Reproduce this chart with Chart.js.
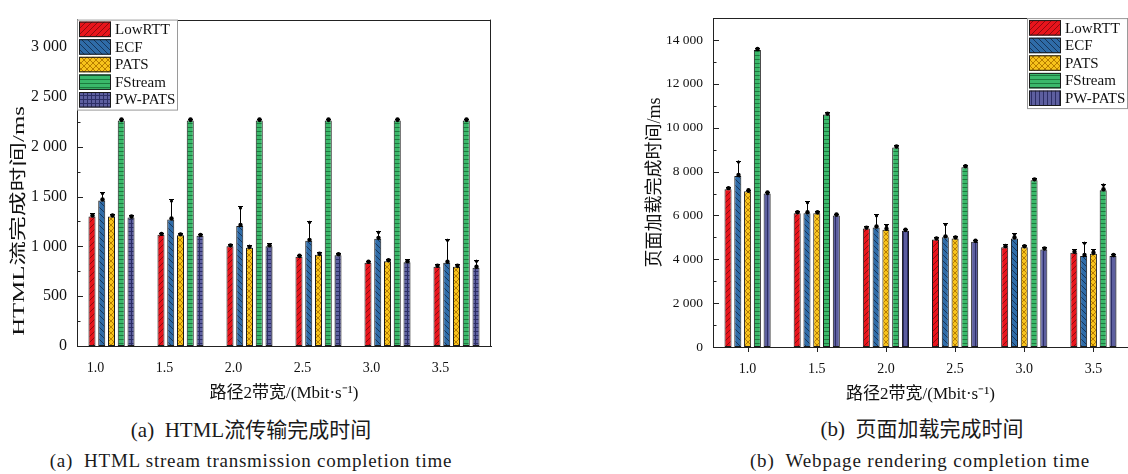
<!DOCTYPE html>
<html>
<head>
<meta charset="utf-8">
<script src="https://cdn.jsdelivr.net/npm/chart.js@4.4.1/dist/chart.umd.min.js"></script>
<style>
  html, body { margin:0; padding:0; background:#fff; }
  body { width:1128px; height:474px; position:relative; overflow:hidden; }
  canvas { position:absolute; top:0; }
  .cap { position:absolute; width:600px; text-align:center; color:#1a1a1a; white-space:nowrap;
         font-family:"Liberation Serif","Noto Sans CJK SC",serif; }
</style>
</head>
<body>
<canvas id="ch1" width="500" height="410" style="left:0px"></canvas>
<canvas id="ch2" width="488" height="410" style="left:640px"></canvas>
<div class="cap" style="left:-49px;top:413px;font-size:21px">(a)&nbsp; HTML流传输完成时间</div>
<div class="cap" style="left:-49px;top:450px;font-size:19px;letter-spacing:0.75px">(a)&nbsp; HTML stream transmission completion time</div>
<div class="cap" style="left:622px;top:412px;font-size:21px">(b)&nbsp; 页面加载完成时间</div>
<div class="cap" style="left:620px;top:450px;font-size:19px;letter-spacing:0.85px">(b)&nbsp; Webpage rendering completion time</div>
<script>
// ---------------- data ----------------
const categories = ['1.0', '1.5', '2.0', '2.5', '3.0', '3.5'];
const seriesNames = ['LowRTT', 'ECF', 'PATS', 'FStream', 'PW-PATS'];

// (a) HTML stream completion time (ms)
const htmlLowRTT  = [1300, 1115, 1000, 895, 835, 795];
const htmlECF     = [1460, 1270, 1205, 1055, 1075, 835];
const htmlPATS    = [1300, 1110, 985, 915, 850, 795];
const htmlFStream = [2262, 2262, 2262, 2262, 2262, 2262];
const htmlPWPATS  = [1290, 1105, 1000, 910, 840, 785];
const htmlLowRTTErr  = [30, 20, 20, 20, 20, 25];
const htmlECFErr     = [85, 200, 195, 200, 80, 240];
const htmlPATSErr    = [25, 25, 30, 25, 25, 25];
const htmlFStreamErr = [15, 15, 15, 15, 15, 15];
const htmlPWPATSErr  = [20, 20, 30, 25, 30, 80];

// (b) Webpage rendering completion time (ms)
const pageLowRTT  = [7200, 6100, 5400, 4900, 4550, 4300];
const pageECF     = [7800, 6100, 5450, 5000, 4950, 4150];
const pagePATS    = [7100, 6100, 5350, 4950, 4550, 4250];
const pageFStream = [13550, 10600, 9100, 8200, 7600, 7150];
const pagePWPATS  = [7000, 6000, 5300, 4800, 4450, 4150];
const pageLowRTTErr  = [100, 100, 100, 120, 150, 150];
const pageECFErr     = [700, 550, 600, 650, 250, 650];
const pagePATSErr    = [60, 80, 250, 120, 100, 200];
const pageFStreamErr = [80, 100, 100, 120, 100, 300];
const pagePWPATSErr  = [60, 80, 80, 80, 100, 80];

const htmlTicks = [0, 500, 1000, 1500, 2000, 2500, 3000];
const pageTicks = [0, 2000, 4000, 6000, 8000, 10000, 12000, 14000];

// ---------------- styling ----------------
const FONT = '"Liberation Serif", "Noto Sans CJK SC", serif';

function makePattern(bg, fg, kind, s) {
  const c = document.createElement('canvas');
  c.width = s; c.height = s;
  const g = c.getContext('2d');
  g.fillStyle = bg; g.fillRect(0, 0, s, s);
  g.strokeStyle = fg; g.lineWidth = 1;
  g.beginPath();
  if (kind === '/' || kind === 'x') {
    g.moveTo(0, s); g.lineTo(s, 0);
    g.moveTo(-1, 1); g.lineTo(1, -1);
    g.moveTo(s - 1, s + 1); g.lineTo(s + 1, s - 1);
  }
  if (kind === '\\' || kind === 'x') {
    g.moveTo(0, 0); g.lineTo(s, s);
    g.moveTo(s - 1, -1); g.lineTo(s + 1, 1);
    g.moveTo(-1, s - 1); g.lineTo(1, s + 1);
  }
  if (kind === 'h' || kind === 'grid') { g.moveTo(0, s - 0.5); g.lineTo(s, s - 0.5); }
  if (kind === 'v' || kind === 'grid') { g.moveTo(s - 0.5, 0); g.lineTo(s - 0.5, s); }
  g.stroke();
  return g.createPattern(c, 'repeat');
}

const fillsCommon = [
  makePattern('#e8141c', '#8e0a0f', '/', 6),
  makePattern('#2f6ca8', '#173559', '\\', 6),
  makePattern('#f7c31c', '#b77d00', 'x', 6),
  makePattern('#3ab86a', '#1c7a3e', 'h', 4),
];
const purpleGrid = makePattern('#5d5f9f', '#2c2e66', 'grid', 4);
const purpleVert = makePattern('#5d5f9f', '#2c2e66', 'v', 4);

function fmt(v) { return String(v).replace(/\B(?=(\d{3})+(?!\d))/g, ' '); }

function buildDatasets(values, fills) {
  return values.map((vals, i) => ({
    label: seriesNames[i],
    data: vals,
    backgroundColor: fills[i],
    borderColor: '#1a1a1a',
    borderWidth: 1,
    borderSkipped: false,
    barPercentage: 0.72,
    categoryPercentage: 0.707
  }));
}

function decorPlugin(cfg) {
  return {
    id: 'decor',
    afterDatasetsDraw(chart) {
      const c = chart.ctx, a = chart.chartArea;
      const ys = chart.scales.y, xs = chart.scales.x;
      c.save();
      // error bars (upper half visible above the bar)
      c.strokeStyle = '#000'; c.fillStyle = '#000'; c.lineWidth = 1;
      cfg.errors.forEach((errs, d) => {
        const meta = chart.getDatasetMeta(d);
        meta.data.forEach((el, j) => {
          const v = chart.data.datasets[d].data[j];
          const yt = ys.getPixelForValue(v + errs[j]);
          const yv = ys.getPixelForValue(v);
          const x = Math.round(el.x) + 0.5;
          c.beginPath();
          c.moveTo(x, yt); c.lineTo(x, yv);
          c.moveTo(x - 2.5, Math.round(yt) + 0.5); c.lineTo(x + 2.5, Math.round(yt) + 0.5);
          c.stroke();
          c.beginPath(); c.arc(x, yv - 1, 2.2, 0, Math.PI * 2); c.fill();
          c.beginPath(); c.arc(x, yt + 1.5, 1.6, 0, Math.PI * 2); c.fill();
        });
      });
      // frame lines
      c.strokeStyle = '#222'; c.lineWidth = 1;
      c.beginPath();
      c.moveTo(a.left, Math.round(a.top) + 0.5); c.lineTo(a.right, Math.round(a.top) + 0.5);
      if (cfg.rightBorder) { c.moveTo(Math.round(a.right) - 0.5, a.top); c.lineTo(Math.round(a.right) - 0.5, a.bottom); }
      c.stroke();
      // inward y ticks (major + minor)
      c.beginPath();
      for (let v = 0; v <= ys.max + 1e-6; v += cfg.minorStep) {
        const y = Math.round(ys.getPixelForValue(v)) + 0.5;
        const major = Math.abs(v / cfg.majorStep - Math.round(v / cfg.majorStep)) < 1e-6;
        c.moveTo(a.left, y); c.lineTo(a.left + (major ? 6 : 3.5), y);
      }
      c.stroke();
      // x ticks (outward)
      if (cfg.xTicks) {
        c.beginPath();
        categories.forEach((_, i) => {
          const x = Math.round(xs.getPixelForValue(i)) + 0.5;
          c.moveTo(x, a.bottom); c.lineTo(x, a.bottom + 5);
        });
        c.stroke();
      }
      // legend
      const lw = 100, rowH = 17.6, lh = 90;
      const lx = cfg.legendRight ? a.right - lw - 1 : a.left;
      const ly = a.top;
      c.fillStyle = '#fff';
      c.fillRect(lx, ly, lw, lh);
      c.strokeStyle = '#9a9a9a';
      c.strokeRect(lx + 0.5, ly + 0.5, lw, lh);
      c.font = '15px ' + FONT;
      c.textBaseline = 'middle'; c.textAlign = 'left';
      seriesNames.forEach((name, i) => {
        const py = ly + 2 + i * rowH;
        c.fillStyle = chart.data.datasets[i].backgroundColor;
        c.fillRect(lx + 2, py, 32, 15.5);
        c.strokeStyle = '#1a1a1a';
        c.strokeRect(lx + 2.5, py + 0.5, 31, 14.5);
        c.fillStyle = '#111';
        c.fillText(name, lx + 38, py + 8.5);
      });
      // stretched y title (left chart)
      if (cfg.yTitle) {
        c.save();
        c.translate(cfg.yTitle.x, cfg.yTitle.y);
        c.rotate(-Math.PI / 2);
        c.scale(cfg.yTitle.sx, 1);
        c.font = cfg.yTitle.size + 'px ' + FONT;
        c.fillStyle = '#111';
        c.textAlign = 'center'; c.textBaseline = 'middle';
        c.fillText(cfg.yTitle.text, 0, 0);
        c.restore();
      }
      c.restore();
    }
  };
}

function makeChart(id, datasets, o) {
  return new Chart(document.getElementById(id), {
    type: 'bar',
    data: { labels: categories, datasets },
    options: {
      responsive: false,
      animation: false,
      events: [],
      layout: { padding: o.padding },
      plugins: { legend: { display: false }, tooltip: { enabled: false } },
      scales: {
        x: {
          grid: { display: false, drawTicks: false },
          border: { display: true, color: '#222', width: 1 },
          ticks: { color: '#111', font: { family: FONT, size: o.xTickSize }, padding: 14, labelOffset: o.labelOffset, maxRotation: 0 },
          title: { display: true, text: '路径2带宽/(Mbit·s⁻¹)', color: '#111', font: { family: FONT, size: 17 }, padding: 0 },
          afterFit: s => { s.height = 58; }
        },
        y: {
          min: 0, max: o.yMax,
          grid: { display: false, drawTicks: false },
          border: { display: true, color: '#222', width: 1 },
          afterBuildTicks: s => { s.ticks = o.yTicks.map(v => ({ value: v })); },
          ticks: { color: '#111', font: { family: FONT, size: o.yTickSize }, padding: 10, callback: v => fmt(v) },
          title: o.yTitleOpt,
          afterFit: s => { s.width = o.yWidth; }
        }
      }
    },
    plugins: [decorPlugin(o.decor)]
  });
}

makeChart('ch1',
  buildDatasets([htmlLowRTT, htmlECF, htmlPATS, htmlFStream, htmlPWPATS], [...fillsCommon, purpleGrid]),
  {
    padding: { left: 0, right: 9, top: 12, bottom: 6 },
    yMax: 3275, yTicks: htmlTicks, yWidth: 77, yTickSize: 16, xTickSize: 14, labelOffset: -16,
    yTitleOpt: { display: false },
    decor: {
      errors: [htmlLowRTTErr, htmlECFErr, htmlPATSErr, htmlFStreamErr, htmlPWPATSErr],
      majorStep: 500, minorStep: 250, rightBorder: true, xTicks: false, legendRight: false,
      yTitle: { text: 'HTML流完成时间/ms', x: 20, y: 221, sx: 1.5, size: 16.5 }
    }
  });

makeChart('ch2',
  buildDatasets([pageLowRTT, pageECF, pagePATS, pageFStream, pagePWPATS], [...fillsCommon, purpleVert]),
  {
    padding: { left: 0, right: 0, top: 12, bottom: 5 },
    yMax: 15000, yTicks: pageTicks, yWidth: 73, yTickSize: 13.5, xTickSize: 14, labelOffset: 0,
    yTitleOpt: { display: true, text: '页面加载完成时间/ms', color: '#111', font: { family: FONT, size: 18 }, padding: { top: 4, bottom: 0 } },
    decor: {
      errors: [pageLowRTTErr, pageECFErr, pagePATSErr, pageFStreamErr, pagePWPATSErr],
      majorStep: 2000, minorStep: 1000, rightBorder: false, xTicks: true, legendRight: true
    }
  });
</script>
</body>
</html>
